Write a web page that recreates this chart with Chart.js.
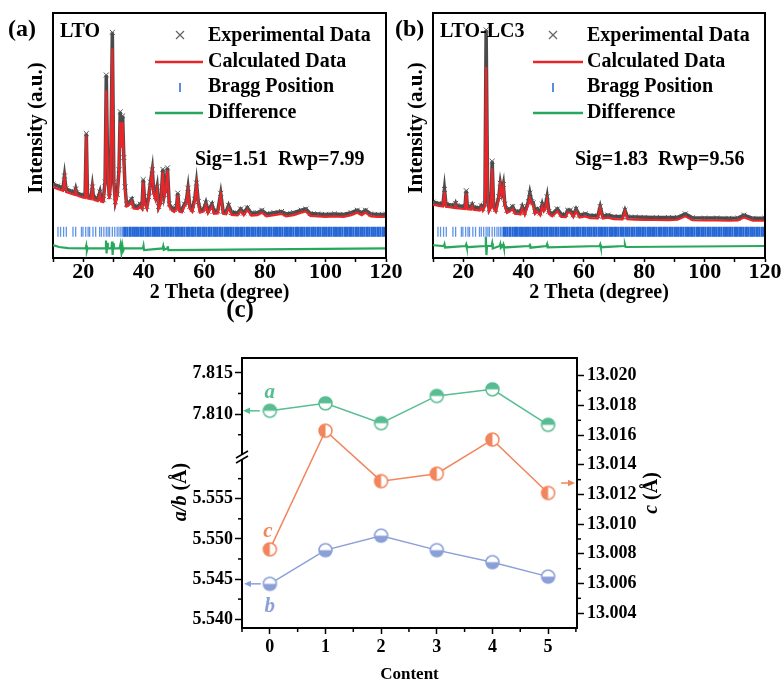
<!DOCTYPE html>
<html><head><meta charset="utf-8">
<script src="https://cdn.jsdelivr.net/npm/chart.js@4.4.0/dist/chart.umd.min.js"></script>
<style>
html,body{margin:0;padding:0;background:#fff;width:781px;height:682px;overflow:hidden;position:relative;}
canvas{position:absolute;}
</style></head><body>
<canvas id="ca" width="410" height="310" style="left:0;top:0"></canvas>
<canvas id="cb" width="391" height="310" style="left:390px;top:0"></canvas>
<canvas id="cc" width="540" height="407" style="left:140px;top:275px"></canvas>
<script>
// ---------- DATA: panel (a) LTO ----------
const tthetaA = [10.0,11.5,13.3,13.8,14.3,16.0,17.2,17.5,17.8,19.5,20.6,21.0,21.4,22.6,23.0,23.4,24.8,25.5,25.9,26.6,27.2,27.6,28.0,28.3,28.6,29.0,29.6,30.1,30.6,31.2,31.8,32.2,32.6,33.0,33.4,33.8,34.3,35.0,36.0,36.6,38.0,38.8,39.4,39.8,40.3,41.0,41.6,42.2,42.8,43.3,43.8,44.4,44.9,45.6,46.3,46.8,47.3,47.8,48.4,49.2,50.0,50.8,51.2,51.7,52.6,53.4,54.0,54.6,55.2,56.0,56.8,57.4,58.0,58.6,59.8,60.5,61.2,62.5,63.2,64.4,65.4,66.2,67.2,68.0,69.0,71.0,72.0,73.0,74.2,75.5,77.5,79.0,80.5,83.0,85.5,87.0,89.5,92.0,93.5,95.0,97.5,100.0,103.0,106.0,108.5,110.5,112.0,113.2,115.0,117.5,120.0];
const calcA = [29.0,28.2,27.4,32.5,27.0,26.2,25.8,27.5,25.6,24.8,24.5,50.0,24.3,24.0,28.4,23.8,23.2,26.0,23.0,22.8,30.0,68.5,40.0,30.0,24.0,30.0,85.5,30.0,22.0,25.0,35.0,55.5,45.0,55.5,40.0,28.0,21.0,21.5,23.0,20.2,20.0,21.0,20.0,31.0,22.0,20.0,24.0,30.0,35.2,26.0,24.0,28.0,20.0,22.0,35.2,25.0,28.0,35.9,21.0,19.5,18.8,20.0,25.7,19.0,18.6,21.0,22.0,27.5,20.0,18.8,23.0,29.8,22.0,18.5,19.0,21.6,18.2,21.0,18.0,18.2,25.7,18.0,17.8,20.5,17.6,17.4,19.0,17.4,19.5,17.3,17.5,18.5,17.0,17.5,18.0,17.0,17.5,18.5,19.0,17.2,17.0,16.8,17.0,16.8,17.5,18.5,17.5,18.5,17.0,16.8,16.8];
const obsA = [30.2,29.4,28.5,33.5,28.2,27.3,26.8,28.2,26.6,25.8,25.5,50.8,25.3,25.0,29.0,24.8,24.2,27.0,24.0,23.8,31.0,74.7,41.0,31.0,25.0,31.0,92.1,31.0,23.0,26.0,36.0,59.7,46.0,58.0,41.0,29.0,22.0,22.5,24.0,21.2,21.0,22.0,21.0,32.0,23.0,21.0,25.0,31.0,36.0,27.0,25.0,29.0,21.0,23.0,36.2,26.0,29.0,36.8,22.0,20.5,19.8,21.0,26.5,20.0,19.6,22.0,23.0,28.5,21.0,19.8,24.0,30.6,23.0,19.5,20.0,22.6,19.2,22.0,19.0,19.2,26.4,19.0,18.8,21.5,18.6,18.4,20.0,18.4,20.5,18.3,18.5,19.5,18.0,18.5,19.0,18.0,18.5,19.5,20.0,18.2,18.0,17.8,18.0,17.8,18.5,19.5,18.5,19.5,18.0,17.8,17.8];
const diffXA = [10,12,15,20.8,21.0,21.2,21.4,27.3,27.5,27.7,27.9,28.1,29.3,29.5,29.7,29.9,30.1,32.0,32.3,32.6,32.9,33.2,33.5,39.7,39.9,40.1,46.2,46.4,46.6,47.7,47.9,48.1,120];
const diffYA = [5.3,4.5,4.0,3.9,5.0,3.0,3.9,3.9,7.1,1.9,6.2,3.9,3.9,6.7,1.2,6.0,3.9,3.9,5.6,2.3,5.2,3.0,3.9,3.9,5.0,3.2,3.9,4.8,3.3,3.9,4.8,3.2,3.9];

// ---------- DATA: panel (b) LTO-LC3 ----------
const tthetaB = [10.0,12.0,13.3,13.8,14.3,16.0,17.2,17.5,17.8,19.5,20.6,21.0,21.4,22.6,23.0,23.4,25.5,26.0,26.5,27.2,27.6,28.1,28.6,29.2,29.6,30.1,30.8,31.8,32.3,32.8,33.3,33.8,34.5,35.5,36.4,37.2,38.0,39.0,39.6,40.4,41.6,42.1,42.7,43.2,43.8,44.5,45.5,46.2,46.7,47.2,47.8,48.4,49.5,51.2,52.5,54.0,54.6,55.5,56.5,57.4,58.5,60.5,62.0,64.6,65.4,66.2,68.0,70.0,72.8,73.6,74.4,77.0,80.0,84.0,88.0,91.0,93.6,96.0,100.0,104.0,108.0,111.0,113.0,116.0,120.0];
const calcB = [21.8,21.3,21.0,27.1,20.9,20.6,20.4,21.5,20.3,20.1,20.0,26.4,19.9,19.8,21.0,19.7,19.4,20.5,19.2,21.0,78.0,25.0,19.0,20.5,36.6,20.0,18.8,24.0,29.8,26.0,29.0,21.0,18.4,19.0,20.0,18.0,18.0,17.8,20.0,17.6,22.0,24.5,22.0,21.5,18.0,19.0,17.4,21.0,19.0,20.0,23.7,18.0,17.0,19.0,16.8,16.7,18.5,18.5,16.6,19.0,16.5,17.0,16.3,16.2,20.3,16.1,16.5,15.9,15.8,18.9,15.8,15.7,15.6,15.5,15.5,15.6,17.0,15.4,15.3,15.3,15.2,15.3,16.5,15.2,15.2];
const obsB = [22.8,22.3,22.0,28.0,21.9,21.6,21.4,22.3,21.3,21.1,21.0,27.5,20.9,20.8,21.8,20.7,20.4,21.3,20.2,22.0,93.1,26.0,20.0,21.5,39.5,21.0,19.8,25.0,30.5,27.0,30.0,22.0,19.4,20.0,21.0,19.0,19.0,18.8,21.0,18.6,23.0,26.5,23.0,22.5,19.0,20.0,18.4,22.0,20.0,21.0,25.0,19.0,18.0,20.0,17.8,17.7,19.5,19.5,17.6,20.0,17.5,18.0,17.3,17.2,21.0,17.1,17.5,16.9,16.8,19.5,16.8,16.7,16.6,16.5,16.5,16.6,18.0,16.4,16.3,16.3,16.2,16.3,17.5,16.2,16.2];
const diffXB = [10,13.6,13.8,14.0,20.8,21.0,21.2,27.3,27.5,27.7,27.9,29.4,29.6,29.8,32.1,32.3,32.5,33.1,33.3,33.5,41.9,42.1,42.3,47.6,47.8,48.0,65.2,65.4,65.6,73.4,73.6,73.8,120];
const diffYB = [5.2,4.9,5.6,4.3,4.9,5.5,4.4,4.9,8.7,1.2,4.9,4.9,6.0,3.9,4.9,5.7,4.2,4.9,5.5,4.3,4.9,5.8,4.2,4.9,5.6,4.3,4.9,5.5,4.4,4.9,5.4,4.5,4.9];

// Bragg reflection positions (2θ)
const braggPositions = [11.65,12.5,13.5,14.4,16.6,17.5,19.4,19.9,20.8,21.6,22.1,23.2,24.1,25.4,26.0,26.8,27.6,28.2,28.7,29.6,30.4,31.2,31.8,32.4,32.9,33.5,34.0,34.6,35.3,35.7,36.4,37.0,37.5,38.1,38.8,39.3,39.8,40.5,41.1,41.6,42.2,42.9,43.4,44.0,44.6,45.1,45.8,46.3,46.9,47.5,48.0,48.7,49.2,49.8,50.5,51.0,51.6,52.3,52.8,53.4,54.1,54.6,55.2,55.9,56.4,57.0,57.7,58.2,58.8,59.5,60.0,60.6,61.3,61.8,62.4,63.1,63.6,64.2,64.9,65.4,66.0,66.7,67.2,67.8,68.5,69.0,69.6,70.3,70.8,71.4,72.1,72.6,73.2,73.9,74.4,75.0,75.7,76.2,76.8,77.5,78.0,78.6,79.3,79.8,80.4,81.1,81.6,82.2,82.9,83.4,84.0,84.7,85.2,85.8,86.5,87.0,87.6,88.3,88.8,89.4,90.1,90.6,91.2,91.9,92.4,93.0,93.7,94.2,94.8,95.5,96.0,96.6,97.3,97.8,98.4,99.1,99.6,100.2,100.9,101.4,102.0,102.7,103.2,103.8,104.5,105.0,105.6,106.3,106.8,107.4,108.1,108.6,109.2,109.9,110.4,111.0,111.7,112.2,112.8,113.5,114.0,114.6,115.3,115.8,116.4,117.1,117.6,118.2,118.9,119.4];

// ---------- DATA: panel (c) lattice parameters ----------
const contents = [0,1,2,3,4,5];
const latticeA = [7.8104,7.8113,7.8089,7.8122,7.8130,7.8087];
const latticeB = [5.5444,5.5486,5.5504,5.5486,5.5471,5.5453];
const latticeC = [13.0083,13.0163,13.0129,13.0134,13.0157,13.0121];
const minorTop = [7.8075,7.8125];
const minorBot = [5.5425,5.5475,5.5525,5.5575];
const minorC = [13.005,13.007,13.009,13.011,13.013,13.015,13.017,13.019];
const minorX = [-0.5,0.5,1.5,2.5,3.5,4.5,5.5];

// ---------- STYLE ----------
const FONT = "'Liberation Serif','Times New Roman',serif";
const RED = '#e8262a', GRAY = '#4a4a4a', BLUEB = '#2566d6', GREEN = '#27a85c';
const CA = '#58bd92', CB = '#8b9fd8', CC = '#f2855c';
const BRAGG_ROW = 10.7;

function line(ctx, x1, y1, x2, y2) { ctx.beginPath(); ctx.moveTo(x1, y1); ctx.lineTo(x2, y2); ctx.stroke(); }
function text(ctx, s, x, y, font, color, align) {
  ctx.font = font; ctx.fillStyle = color || '#000'; ctx.textAlign = align || 'left'; ctx.textBaseline = 'middle';
  ctx.fillText(s, x, y);
}
function richText(ctx, parts, cx, cy, angle, color) {
  ctx.save(); ctx.translate(cx, cy); ctx.rotate(angle);
  let w = 0; parts.forEach(p => { ctx.font = p.f; w += ctx.measureText(p.t).width; });
  let x = -w / 2; ctx.textBaseline = 'middle'; ctx.textAlign = 'left'; ctx.fillStyle = color || '#000';
  parts.forEach(p => { ctx.font = p.f; ctx.fillText(p.t, x, 0); x += ctx.measureText(p.t).width; });
  ctx.restore();
}

function makeXrd(id, cfg) {
  const decor = {
    id: 'decor' + id,
    afterDraw(chart) {
      const ctx = chart.ctx, ca = chart.chartArea;
      ctx.save();
      ctx.strokeStyle = '#000'; ctx.lineWidth = 2;
      ctx.beginPath(); ctx.moveTo(ca.left - 1, ca.top); ctx.lineTo(ca.right, ca.top); ctx.lineTo(ca.right, ca.bottom + 1); ctx.stroke();
      const B20 = 'bold 20px ' + FONT;
      text(ctx, cfg.panel, cfg.panelX, 30, 'bold 24px ' + FONT, '#000');
      text(ctx, cfg.sample, cfg.sampleX, 32, B20, '#000');
      const mx = cfg.markX, my = 35;
      ctx.strokeStyle = '#666'; ctx.lineWidth = 1.2;
      line(ctx, mx - 4, my - 4, mx + 4, my + 4); line(ctx, mx - 4, my + 4, mx + 4, my - 4);
      ctx.strokeStyle = RED; ctx.lineWidth = 2.5; line(ctx, cfg.lineX1, 62, cfg.lineX2, 62);
      ctx.strokeStyle = BLUEB; ctx.lineWidth = 1.5; line(ctx, cfg.markX, 83, cfg.markX, 92);
      ctx.strokeStyle = GREEN; ctx.lineWidth = 2.5; line(ctx, cfg.lineX1, 113, cfg.lineX2, 113);
      text(ctx, 'Experimental Data', cfg.textX, 36, B20);
      text(ctx, 'Calculated Data', cfg.textX, 62, B20);
      text(ctx, 'Bragg Position', cfg.textX, 87, B20);
      text(ctx, 'Difference', cfg.textX, 113, B20);
      text(ctx, cfg.sig, cfg.sigX, 160, B20);
      richText(ctx, [{t: 'Intensity (a.u.)', f: 'bold 21px ' + FONT}], cfg.yTitleX, 128, -Math.PI / 2);
      richText(ctx, [{t: '2 Theta (degree)', f: B20}], (ca.left + ca.right) / 2, 293, 0);
      ctx.restore();
    }
  };
  return new Chart(document.getElementById(id), {
    type: 'scatter',
    data: { datasets: [
      { label: 'Calculated Data', data: cfg.tt.map((x, i) => ({x, y: cfg.calc[i]})), showLine: true,
        borderColor: RED, borderWidth: 2.2, pointRadius: 0, order: 1 },
      { label: 'Experimental Data', data: cfg.tt.map((x, i) => ({x, y: cfg.obs[i]})), showLine: true,
        borderColor: GRAY, borderWidth: 3.5, pointStyle: 'crossRot', pointRadius: 3.5,
        pointBorderColor: '#555', pointBorderWidth: 1, pointBackgroundColor: 'rgba(0,0,0,0)', order: 2 },
      { label: 'Bragg Position', data: braggPositions.map(x => ({x, y: BRAGG_ROW})), showLine: false,
        pointStyle: 'line', pointRotation: 90, pointRadius: 5,
        pointBorderWidth: c => (c.raw && c.raw.x < 33 ? 1.3 : 2),
        pointBorderColor: c => (c.raw && c.raw.x < 33 ? '#5f93e4' : BLUEB), order: 0 },
      { label: 'Difference', data: cfg.dx.map((x, i) => ({x, y: cfg.dy[i]})), showLine: true,
        borderColor: GREEN, borderWidth: 2.2, pointRadius: 0, order: 0 }
    ]},
    options: {
      responsive: false, animation: false, devicePixelRatio: 1,
      layout: { padding: { top: 13, right: cfg.padRight, left: 0, bottom: 0 } },
      plugins: { legend: { display: false }, tooltip: { enabled: false } },
      elements: { line: { tension: 0 } },
      scales: {
        x: { type: 'linear', min: 10, max: 120,
          ticks: { stepSize: 10, autoSkip: false, maxRotation: 0, callback: v => (v % 20 === 0 ? String(v) : ''),
            font: { family: FONT, size: 22, weight: 'bold' }, color: '#000', padding: -3 },
          grid: { drawOnChartArea: false, drawTicks: true, tickLength: 4, tickColor: '#000', tickWidth: 1.5 },
          border: { display: true, color: '#000', width: 2 },
          afterFit: s => { s.height = 52; } },
        y: { type: 'linear', min: 0, max: 100, ticks: { display: false }, grid: { display: false },
          border: { display: true, color: '#000', width: 2 },
          afterFit: s => { s.width = cfg.yWidth; } }
      }
    },
    plugins: [decor]
  });
}

makeXrd('ca', { tt: tthetaA, calc: calcA, obs: obsA, dx: diffXA, dy: diffYA, padRight: 24, yWidth: 53,
  panel: '(a)', panelX: 8, sample: 'LTO', sampleX: 60, markX: 180, textX: 208, lineX1: 155, lineX2: 203,
  sig: 'Sig=1.51  Rwp=7.99', sigX: 195, yTitleX: 37 });
makeXrd('cb', { tt: tthetaB, calc: calcB, obs: obsB, dx: diffXB, dy: diffYB, padRight: 16, yWidth: 43,
  panel: '(b)', panelX: 5, sample: 'LTO-LC3', sampleX: 50, markX: 163, textX: 197, lineX1: 143, lineX2: 193,
  sig: 'Sig=1.83  Rwp=9.56', sigX: 185, yTitleX: 27 });

// ---------- panel (c) ----------
function halfMarker(color, mode) {
  const s = 17, r = 6.5, c = s / 2;
  const cv = document.createElement('canvas'); cv.width = s; cv.height = s;
  const g = cv.getContext('2d');
  g.beginPath(); g.arc(c, c, r, 0, 2 * Math.PI); g.fillStyle = '#fff'; g.fill();
  g.beginPath();
  if (mode === 'top') g.arc(c, c, r, Math.PI, 2 * Math.PI);
  else if (mode === 'bottom') g.arc(c, c, r, 0, Math.PI);
  else g.arc(c, c, r, 0.5 * Math.PI, 1.5 * Math.PI);
  g.closePath(); g.fillStyle = color; g.fill();
  g.beginPath(); g.arc(c, c, r, 0, 2 * Math.PI); g.lineWidth = 1.5; g.strokeStyle = color; g.stroke();
  return cv;
}
const TICKF = { family: FONT, size: 18, weight: 'bold' };
function arrow(ctx, x1, y, x2, color) {
  ctx.strokeStyle = color; ctx.fillStyle = color; ctx.lineWidth = 1.5;
  const dir = Math.sign(x2 - x1);
  line(ctx, x1, y, x2 - dir * 5, y);
  ctx.beginPath(); ctx.moveTo(x2, y); ctx.lineTo(x2 - dir * 7, y - 3.2); ctx.lineTo(x2 - dir * 7, y + 3.2); ctx.closePath(); ctx.fill();
}
const decorC = {
  id: 'decorC',
  afterDraw(chart) {
    const ctx = chart.ctx, ca = chart.chartArea, s = chart.scales;
    ctx.save();
    ctx.strokeStyle = '#000'; ctx.lineWidth = 2;
    line(ctx, ca.left - 1, ca.top, ca.right + 1, ca.top);
    ctx.lineWidth = 1.5;
    minorTop.forEach(v => { const p = s.yTop.getPixelForValue(v); line(ctx, ca.left - 4, p, ca.left, p); });
    minorBot.forEach(v => { const p = s.yBot.getPixelForValue(v); line(ctx, ca.left - 4, p, ca.left, p); });
    minorC.forEach(v => { const p = s.yC.getPixelForValue(v); line(ctx, ca.right, p, ca.right + 4, p); });
    minorX.forEach(v => { const p = s.x.getPixelForValue(v); line(ctx, p, ca.bottom, p, ca.bottom + 4); });
    // axis break between the two stacked left scales
    const jy = s.yTop.bottom;
    ctx.fillStyle = '#fff'; ctx.fillRect(ca.left - 3, jy - 2, 6, 5);
    ctx.strokeStyle = '#000'; ctx.lineWidth = 1.5;
    line(ctx, ca.left - 6, jy + 1, ca.left + 6, jy - 6);
    line(ctx, ca.left - 6, jy + 6, ca.left + 6, jy - 1);
    const x0 = s.x.getPixelForValue(contents[0]);
    const x5 = s.x.getPixelForValue(contents[5]);
    const ya = s.yTop.getPixelForValue(latticeA[0]);
    const yb = s.yBot.getPixelForValue(latticeB[0]);
    const yc0 = s.yC.getPixelForValue(latticeC[0]);
    const yc5 = s.yC.getPixelForValue(latticeC[5]);
    arrow(ctx, x0 - 10, ya, ca.left + 1, CA);
    arrow(ctx, x0 - 9, yb, ca.left + 2, CB);
    arrow(ctx, x5 + 13, yc5 - 10, ca.right - 2, CC);
    const BI = 'italic bold 21px ' + FONT;
    text(ctx, 'a', x0, ya - 18, BI, CA, 'center');
    text(ctx, 'b', x0, yb + 23, BI, CB, 'center');
    text(ctx, 'c', x0 - 2, yc0 - 18, BI, CC, 'center');
    text(ctx, '(c)', 100, 36, 'bold 25px ' + FONT, '#000', 'center');
    richText(ctx, [{t: 'a/b', f: 'italic bold 20px ' + FONT}, {t: ' (Å)', f: 'bold 20px ' + FONT}], 41, 217, -Math.PI / 2);
    richText(ctx, [{t: 'c', f: 'italic bold 20px ' + FONT}, {t: ' (Å)', f: 'bold 20px ' + FONT}], 512, 218, -Math.PI / 2);
    text(ctx, 'Content', (ca.left + ca.right) / 2, 400, 'bold 17px ' + FONT, '#000', 'center');
    ctx.restore();
  }
};
// drop tick marks that fall on the very edge of a (broken) scale segment
const trimTicks = sc => { const m = (sc.max - sc.min) * 0.03; sc.ticks = sc.ticks.filter(t => t.value > sc.min + m && t.value < sc.max - m); };
const yOpts = (extra) => Object.assign({
  type: 'linear', position: 'left',
  grid: { drawOnChartArea: false, drawTicks: true, tickLength: 7, tickColor: '#000', tickWidth: 1.5 },
  border: { display: true, color: '#000', width: 2 },
  afterBuildTicks: trimTicks,
  afterFit: sc => { sc.width = 102; }
}, extra);
const ptOpts = (color, img) => ({ borderColor: color, borderWidth: 1.5, pointStyle: img, pointRadius: 7,
  pointBorderColor: color, pointBackgroundColor: '#fff', tension: 0 });
new Chart(document.getElementById('cc'), {
  type: 'line',
  data: { datasets: [
    Object.assign({ label: 'a', data: contents.map((x, i) => ({x, y: latticeA[i]})), yAxisID: 'yTop' }, ptOpts(CA, halfMarker(CA, 'top'))),
    Object.assign({ label: 'b', data: contents.map((x, i) => ({x, y: latticeB[i]})), yAxisID: 'yBot' }, ptOpts(CB, halfMarker(CB, 'bottom'))),
    Object.assign({ label: 'c', data: contents.map((x, i) => ({x, y: latticeC[i]})), yAxisID: 'yC' }, ptOpts(CC, halfMarker(CC, 'left')))
  ]},
  options: {
    responsive: false, animation: false, devicePixelRatio: 1,
    layout: { padding: { top: 83, right: 0, left: 0, bottom: 0 } },
    plugins: { legend: { display: false }, tooltip: { enabled: false } },
    scales: {
      x: { type: 'linear', min: -0.5, max: 5.52,
        ticks: { stepSize: 1, includeBounds: false, font: TICKF, color: '#000', padding: 3, autoSkip: false, maxRotation: 0 },
        grid: { drawOnChartArea: false, drawTicks: true, tickLength: 6, tickColor: '#000', tickWidth: 1.5 },
        border: { display: true, color: '#000', width: 2 },
        afterFit: sc => { sc.height = 54; } },
      yBot: yOpts({ stack: 'left', stackWeight: 171, min: 5.5389, max: 5.5602,
        ticks: { stepSize: 0.005, includeBounds: false, callback: v => v.toFixed(3), font: TICKF, color: '#000', padding: 2 } }),
      yTop: yOpts({ stack: 'left', stackWeight: 99, min: 7.8048, max: 7.8168,
        ticks: { stepSize: 0.005, includeBounds: false, callback: v => v.toFixed(3), font: TICKF, color: '#000', padding: 2 } }),
      yC: yOpts({ position: 'right', min: 13.003, max: 13.0212,
        ticks: { stepSize: 0.002, includeBounds: false, callback: v => v.toFixed(3), font: TICKF, color: '#000', padding: 3 },
        afterFit: sc => { sc.width = 103; } })
    }
  },
  plugins: [decorC]
});
</script>
</body></html>
